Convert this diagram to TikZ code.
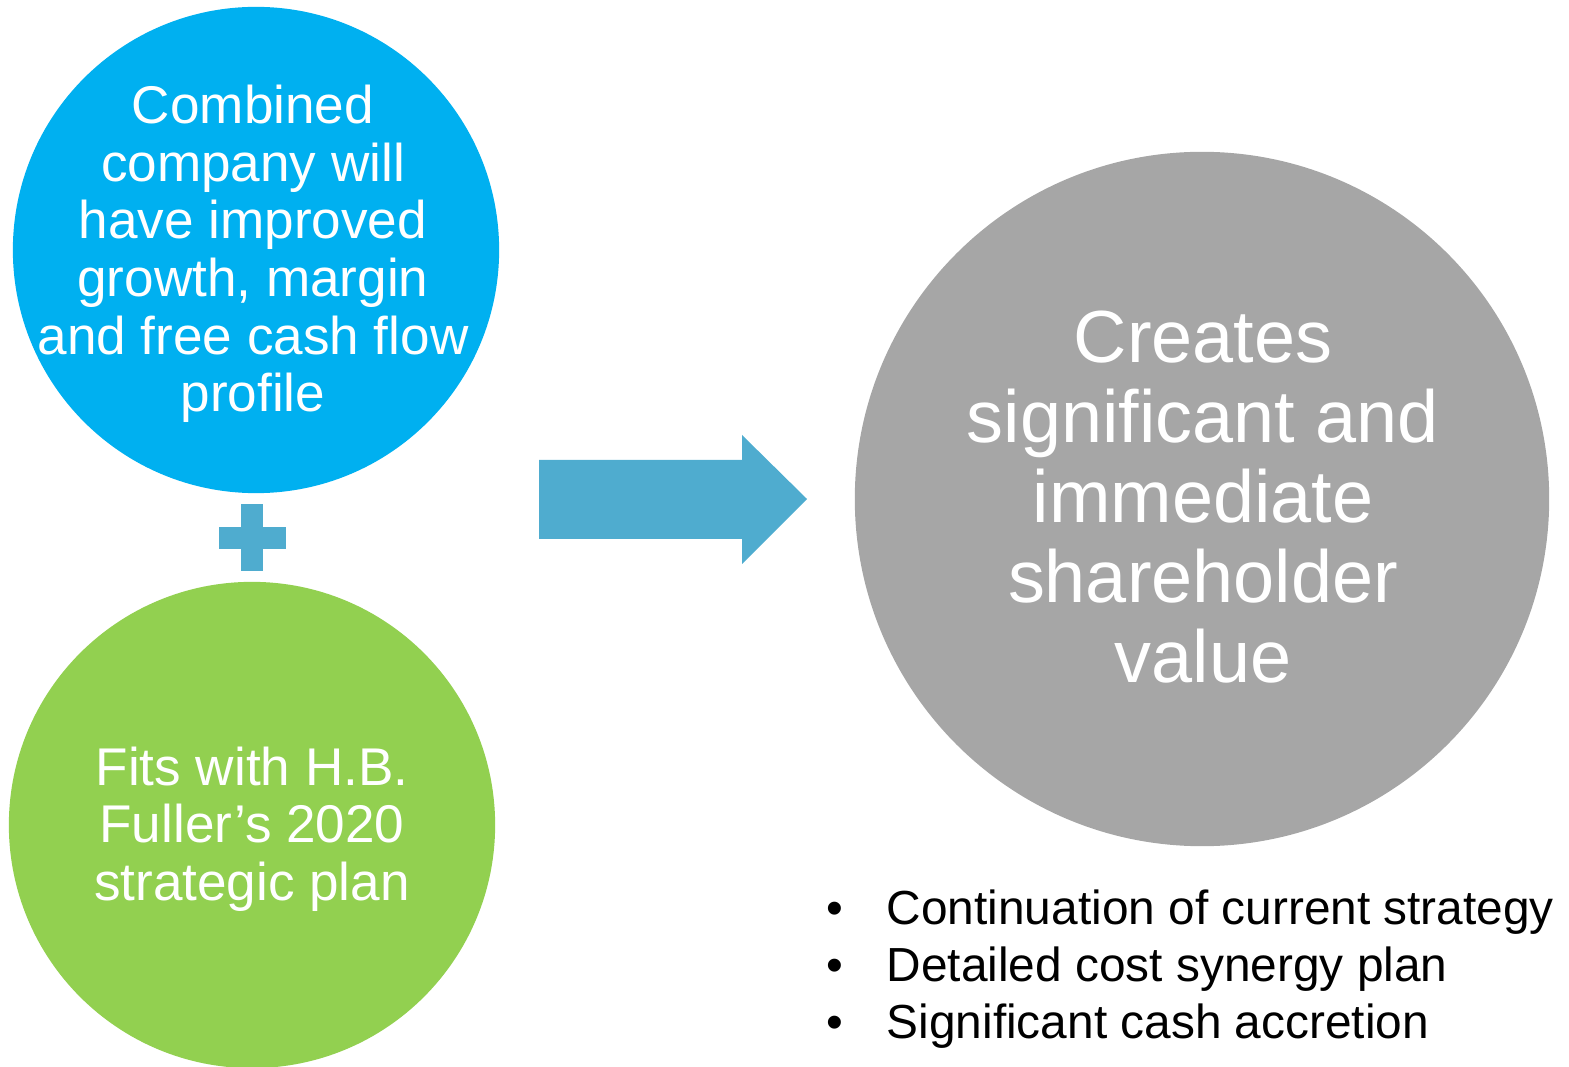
\documentclass[tikz,border=0pt]{standalone}
\usepackage{fontspec}
\setmainfont{Liberation Sans}
\usetikzlibrary{positioning}
\definecolor{discblue}{HTML}{00B0F0}
\definecolor{discgreen}{HTML}{92D050}
\definecolor{discgrey}{HTML}{A6A6A6}
\definecolor{arrowblue}{HTML}{4FACCF}
\tikzset
{
    disc/.style      = {circle, draw=none, inner sep=0pt},
    bluedisc/.style  = {disc, fill=discblue, minimum size=4.86cm},
    greendisc/.style = {disc, fill=discgreen, minimum size=4.86cm},
    greydisc/.style  = {disc, fill=discgrey, minimum size=6.94cm},
    disctext/.style  = {align=center, text=white, inner sep=0pt, font=\fontsize{15.1}{16.4}\selectfont},
    bigtext/.style   = {align=center, text=white, inner sep=0pt, font=\fontsize{21}{22.8}\selectfont},
    point/.style     = {anchor=base west, inner sep=0pt, font=\fontsize{13.6}{16.2}\selectfont}
}

\begin{document}
\begin{tikzpicture}[x=0.01cm, y=-0.01cm]
\useasboundingbox (0,0) rectangle (1569,1067);

% the two inputs
\node[bluedisc] (combined) at (256,250) {};
\node[disctext] (combinedtext) at ([shift={(-3,4)}]combined) {Combined\\company will\\have improved\\growth, margin\\and free cash flow\\profile};
\node[greendisc] (fits) at (252,825) {};
\node[disctext] (fitstext) at ([shift={(0,4)}]fits) {Fits with H.B.\\Fuller’s 2020\\strategic plan};

% plus sign between them
\fill[arrowblue] (241,504) rectangle (263,571);
\fill[arrowblue] (219,527) rectangle (286,549);

% block arrow
\fill[arrowblue] (539,460) -- (742,460) -- (742,435) -- (807,499)
    -- (742,564) -- (742,539) -- (539,539) -- cycle;

% result
\node[greydisc] (value) at (1202,499) {};
\node[bigtext] (valuetext) at ([shift={(1,-2)}]value) {Creates\\significant and\\immediate\\shareholder\\value};

% bullet points
\node[point] (p1) at (826,924) {\makebox[0.6cm][l]{\textbullet}Continuation of current strategy};
\node[point] (p2) at (826,981) {\makebox[0.6cm][l]{\textbullet}Detailed cost synergy plan};
\node[point] (p3) at (826,1038) {\makebox[0.6cm][l]{\textbullet}Significant cash accretion};
\end{tikzpicture}
\end{document}
